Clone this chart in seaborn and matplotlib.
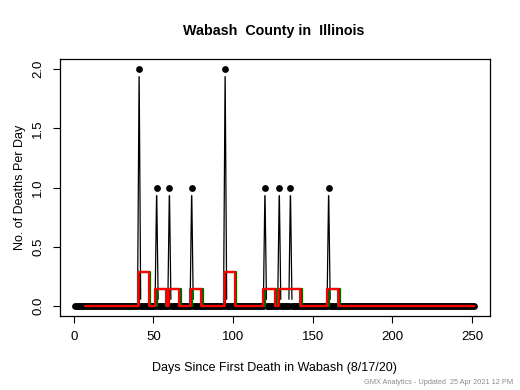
import numpy as np
import pandas as pd
import matplotlib
matplotlib.use("Agg")
import matplotlib.pyplot as plt
import seaborn as sns

# ---- data ----
first_day = 1
last_day = 251
spike_days = [41, 52, 60, 74, 95, 120, 129, 136, 160]
spike_deaths = [2, 1, 1, 1, 2, 1, 1, 1, 1]
x_ticks = [0, 50, 100, 150, 200, 250]
y_ticks = [0.0, 0.5, 1.0, 1.5, 2.0]
y_tick_labels = ["0.0", "0.5", "1.0", "1.5", "2.0"]
title = "Wabash  County in  Illinois"
x_label = "Days Since First Death in Wabash (8/17/20)"
y_label = "No. of Deaths Per Day"
footer = "GMX Analytics - Updated  25 Apr 2021 12 PM"

days = np.arange(first_day, last_day + 1)
deaths = pd.Series(0.0, index=days)
deaths.loc[spike_days] = spike_deaths
df = pd.DataFrame({"day": days, "deaths": deaths.values})
avg = deaths.rolling(7).mean().dropna()
df_avg = pd.DataFrame({"day": avg.index.values, "avg": avg.values})

sns.set_style("white")
plt.rcParams["font.family"] = ["Liberation Sans", "DejaVu Sans"]
plt.rcParams["text.color"] = "black"
plt.rcParams["axes.labelcolor"] = "black"
plt.rcParams["xtick.color"] = "black"
plt.rcParams["ytick.color"] = "black"

fig = plt.figure(figsize=(5.2, 3.9), dpi=100)
ax = fig.add_axes([59.5 / 520, 1 - 315.7 / 390, 430 / 520, 256.2 / 390])

# black line (type "b" look: line, white halos, dots)
sns.lineplot(data=df, x="day", y="deaths", ax=ax, color="black", lw=0.9,
             estimator=None, zorder=1)
sns.scatterplot(data=df, x="day", y="deaths", ax=ax, color="white", s=95,
                linewidth=0, zorder=2)
sns.scatterplot(data=df, x="day", y="deaths", ax=ax, color="black", s=24,
                linewidth=0, zorder=3)
# green and red step lines
sns.lineplot(data=df_avg, x="day", y="avg", ax=ax, color="#006400", lw=1.6,
             drawstyle="steps-post", estimator=None, zorder=4)
sns.lineplot(data=df_avg, x="day", y="avg", ax=ax, color="#ff0000", lw=1.6,
             drawstyle="steps-pre", estimator=None, zorder=5)

ax.set_xlim(-9, 261)
ax.set_ylim(-0.08, 2.08)
ax.set_xticks(x_ticks)
ax.set_yticks(y_ticks)
ax.set_yticklabels(y_tick_labels, rotation=90, va="center")
ax.tick_params(axis="both", direction="out", length=5, width=0.8,
               labelsize=9.5, colors="black", labelcolor="black", pad=6,
               left=True, bottom=True)
for s in ax.spines.values():
    s.set_color("black")
    s.set_linewidth(0.9)
ax.set_xlabel("")
ax.set_ylabel("")

fig.text(273.5 / 520, 1 - 31 / 390, title, ha="center", va="center",
         fontsize=10.3, fontweight="bold", color="black")
fig.text(274.5 / 520, 1 - 368 / 390, x_label, ha="center", va="center",
         fontsize=9, color="black")
fig.text(20 / 520, 1 - 187.5 / 390, y_label, ha="center", va="center",
         rotation=90, fontsize=9, color="black")
fig.text(513 / 520, 1 - 383 / 390, footer, ha="right", va="center",
         fontsize=5.3, color="#8c8c8c")

fig.savefig("out.png", dpi=100)
